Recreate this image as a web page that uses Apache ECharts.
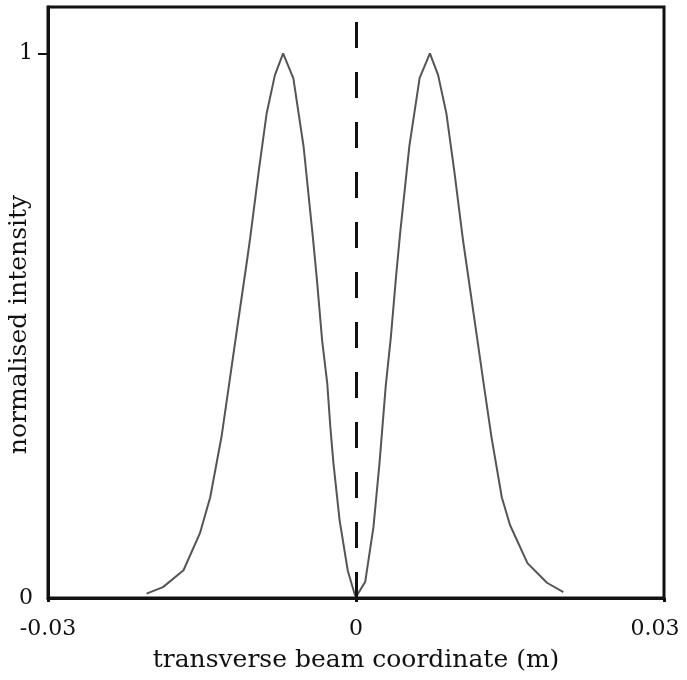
<!DOCTYPE html>
<html>
<head>
<meta charset="utf-8">
<script src="https://cdn.jsdelivr.net/npm/echarts@6/dist/echarts.min.js"></script>
<style>html,body{margin:0;padding:0;background:#fff;}#c{width:687px;height:680px;}</style>
</head>
<body>
<div id="c"></div>
<script>
// Data
const leftX = [-0.0204,-0.0188,-0.0168,-0.0152,-0.0142,-0.0131,-0.0124,-0.0116,-0.01065,-0.0103,-0.0095,-0.0087,-0.0079,-0.0071,-0.0061,-0.0051,-0.0042,-0.0038,-0.0033,-0.0028,-0.0025,-0.0022,-0.0016,-0.0008,-0.0001];
const leftY = [0.008,0.020,0.051,0.119,0.185,0.296,0.387,0.492,0.615,0.662,0.780,0.890,0.960,1.000,0.954,0.828,0.662,0.583,0.473,0.394,0.314,0.248,0.143,0.050,0.005];
const rightX = [0.0001,0.0009,0.0017,0.0023,0.0029,0.0034,0.0039,0.0043,0.0052,0.0062,0.0072,0.0080,0.0088,0.0096,0.0104,0.0117,0.0125,0.0132,0.0142,0.0150,0.0167,0.0186,0.0202];
const rightY = [0.005,0.030,0.130,0.250,0.390,0.480,0.590,0.670,0.830,0.955,1.000,0.960,0.890,0.780,0.660,0.490,0.385,0.295,0.185,0.134,0.064,0.028,0.011];
const xTicks = [-0.03, 0, 0.03];
const xTickLabels = ['-0.03', '0', '0.03'];
const yTicks = [0, 1];
const yTickLabels = ['0', '1'];
const markerX = 0;

const curve = leftX.map((x, i) => [x, leftY[i]]).concat(rightX.map((x, i) => [x, rightY[i]]));

const FONT = 'DejaVu Serif';
const chart = echarts.init(document.getElementById('c'), null, {renderer: 'canvas'});
chart.setOption({
  animation: false,
  backgroundColor: '#fff',
  grid: {left: 48, right: 23, top: 7, bottom: 82, show: true, borderColor: '#111', borderWidth: 3,
    backgroundColor: 'transparent', containLabel: false, outerBoundsMode: 'none'},
  xAxis: {
    type: 'value', min: -0.03, max: 0.03, interval: 0.03,
    name: 'transverse beam coordinate (m)', nameLocation: 'middle', nameGap: 50, nameMoveOverlap: false,
    nameTextStyle: {fontFamily: FONT, fontSize: 25, color: '#111'},
    splitLine: {show: false},
    axisLine: {show: true, onZero: false, lineStyle: {color: '#111', width: 3}},
    axisTick: {show: true, length: 4, lineStyle: {color: '#111', width: 3}},
    axisLabel: {
      fontFamily: FONT, fontSize: 22, color: '#111', margin: 20,
      formatter: function (v) {
        const i = xTicks.findIndex(t => Math.abs(t - v) < 1e-9);
        if (i < 0) return '';
        return i === xTicks.length - 1 ? '{r|' + xTickLabels[i] + '}' : xTickLabels[i];
      },
      rich: {r: {fontFamily: FONT, fontSize: 22, color: '#111', padding: [0, 18, 0, 0]}}
    }
  },
  yAxis: {
    type: 'value', min: 0, max: 1.085, interval: 1,
    name: 'normalised intensity', nameLocation: 'middle', nameGap: 16, nameMoveOverlap: false,
    nameTextStyle: {fontFamily: FONT, fontSize: 25, color: '#111', padding: [0, 44, 0, 0]},
    splitLine: {show: false},
    axisLine: {show: true, onZero: false, lineStyle: {color: '#111', width: 3}},
    axisTick: {show: true, length: 10, lineStyle: {color: '#111', width: 2},
      customValues: [1]},
    axisLabel: {
      fontFamily: FONT, fontSize: 22, color: '#111', margin: 15,
      customValues: yTicks,
      formatter: function (v) {
        const i = yTicks.findIndex(t => Math.abs(t - v) < 1e-9);
        return i < 0 ? '' : yTickLabels[i];
      }
    }
  },
  series: [{
    type: 'line', data: curve, showSymbol: false, smooth: false,
    lineStyle: {color: '#555', width: 2},
    markLine: {
      silent: true, symbol: 'none', label: {show: false},
      lineStyle: {color: '#111', width: 3, type: [26, 24]},
      data: [[{coord: [markerX, 0]}, {coord: [markerX, 1.085]}]]
    }
  }]
});
</script>
</body>
</html>
